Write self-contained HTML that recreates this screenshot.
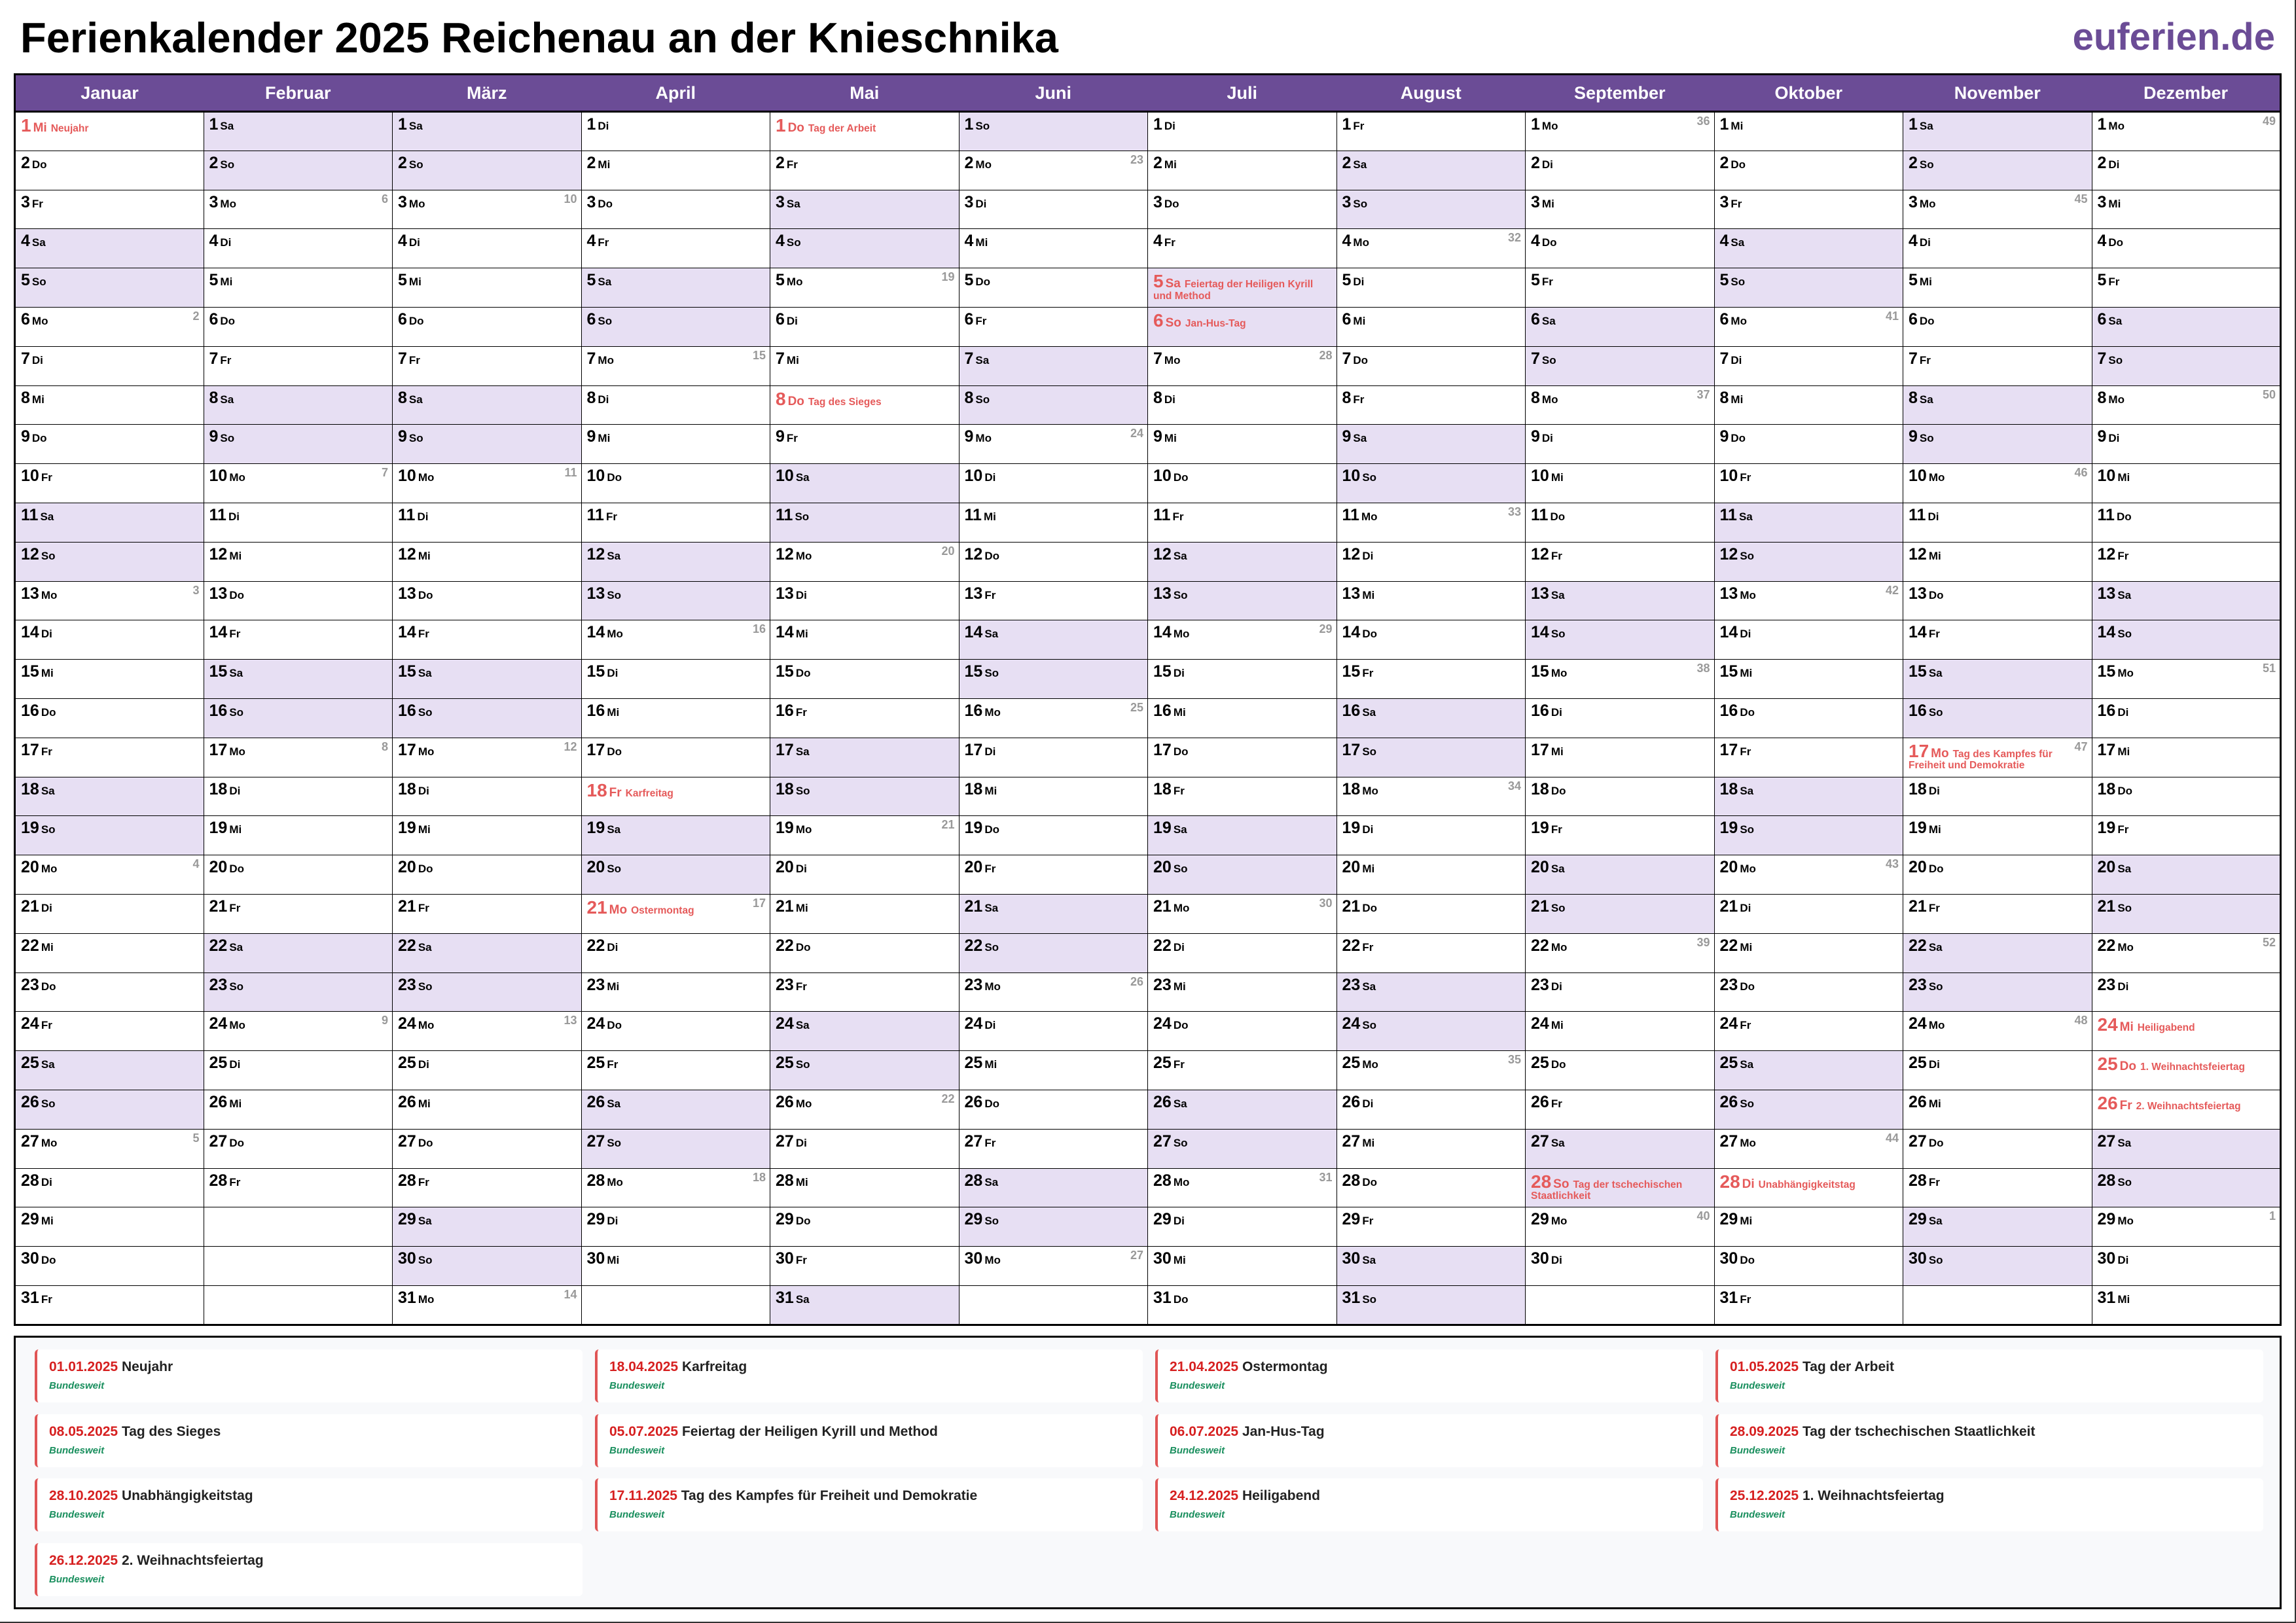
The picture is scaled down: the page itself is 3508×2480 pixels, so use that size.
<!DOCTYPE html>
<html><head><meta charset="utf-8">
<style>
*{box-sizing:border-box}
body{margin:0;width:3508px;height:2480px;background:#fff;font-family:"Liberation Sans",Arial,sans-serif;position:relative;overflow:hidden}
#t{position:absolute;left:31px;top:25px;font-size:65px;line-height:65px;font-weight:bold;color:#000;white-space:nowrap}
#l{position:absolute;right:32px;top:28px;font-size:58px;line-height:58px;font-weight:bold;color:#6B4C96}
#pr{position:absolute;right:0;top:0;width:2px;height:2480px;background:#333}
#pb{position:absolute;left:0;bottom:0;height:2px;width:3508px;background:#333}
table{position:absolute;left:21px;top:112px;width:3465px;border-collapse:collapse;table-layout:fixed;border:3px solid #000}
th{background:#6B4C96;color:#fff;font-size:27px;height:57px;border-bottom:3px solid #000;padding:0;font-weight:bold}
td{border:1px solid #000;height:59.8px;vertical-align:top;padding:5px 8px 0 8px;position:relative;line-height:1.05;overflow:hidden}
td.w{background:#E7DFF3}
td b{font-size:25px;font-weight:bold;color:#000}
td i{font-style:normal;font-weight:bold;font-size:17px;margin-left:3px;color:#000}
td s{text-decoration:none;position:absolute;right:6px;top:4px;font-size:18px;font-weight:bold;color:#999}
td.h b,td.h i{color:#E55A5A}
td.h b{font-size:28px}
td.h i{font-size:19px}
td u{text-decoration:none;color:#E55A5A;font-size:15.5px;font-weight:bold;margin-left:6px}
#lg{position:absolute;left:21px;top:2041px;width:3465px;height:418px;border:3px solid #000;background:#F8F9FB}
.c{position:absolute;width:837px;height:81px;background:#fff;border-left:4px solid #E05555;border-radius:6px}
.c .d{position:absolute;left:18px;top:15px;font-size:21px;font-weight:bold;color:#222;white-space:nowrap}
.c .d em{font-style:normal;color:#D62020}
.c .b{position:absolute;left:18px;top:47px;font-size:15px;font-weight:bold;font-style:italic;color:#1A8F5E}
</style></head><body>
<div id="t">Ferienkalender 2025 Reichenau an der Knieschnika</div>
<div id="l">euferien.de</div>
<div id="pr"></div><div id="pb"></div>
<table>
<tr><th>Januar</th><th>Februar</th><th>März</th><th>April</th><th>Mai</th><th>Juni</th><th>Juli</th><th>August</th><th>September</th><th>Oktober</th><th>November</th><th>Dezember</th></tr>
<tr><td class="h"><b>1</b><i>Mi</i><u>Neujahr</u></td><td class="w"><b>1</b><i>Sa</i></td><td class="w"><b>1</b><i>Sa</i></td><td><b>1</b><i>Di</i></td><td class="h"><b>1</b><i>Do</i><u>Tag der Arbeit</u></td><td class="w"><b>1</b><i>So</i></td><td><b>1</b><i>Di</i></td><td><b>1</b><i>Fr</i></td><td><b>1</b><i>Mo</i><s>36</s></td><td><b>1</b><i>Mi</i></td><td class="w"><b>1</b><i>Sa</i></td><td><b>1</b><i>Mo</i><s>49</s></td></tr>
<tr><td><b>2</b><i>Do</i></td><td class="w"><b>2</b><i>So</i></td><td class="w"><b>2</b><i>So</i></td><td><b>2</b><i>Mi</i></td><td><b>2</b><i>Fr</i></td><td><b>2</b><i>Mo</i><s>23</s></td><td><b>2</b><i>Mi</i></td><td class="w"><b>2</b><i>Sa</i></td><td><b>2</b><i>Di</i></td><td><b>2</b><i>Do</i></td><td class="w"><b>2</b><i>So</i></td><td><b>2</b><i>Di</i></td></tr>
<tr><td><b>3</b><i>Fr</i></td><td><b>3</b><i>Mo</i><s>6</s></td><td><b>3</b><i>Mo</i><s>10</s></td><td><b>3</b><i>Do</i></td><td class="w"><b>3</b><i>Sa</i></td><td><b>3</b><i>Di</i></td><td><b>3</b><i>Do</i></td><td class="w"><b>3</b><i>So</i></td><td><b>3</b><i>Mi</i></td><td><b>3</b><i>Fr</i></td><td><b>3</b><i>Mo</i><s>45</s></td><td><b>3</b><i>Mi</i></td></tr>
<tr><td class="w"><b>4</b><i>Sa</i></td><td><b>4</b><i>Di</i></td><td><b>4</b><i>Di</i></td><td><b>4</b><i>Fr</i></td><td class="w"><b>4</b><i>So</i></td><td><b>4</b><i>Mi</i></td><td><b>4</b><i>Fr</i></td><td><b>4</b><i>Mo</i><s>32</s></td><td><b>4</b><i>Do</i></td><td class="w"><b>4</b><i>Sa</i></td><td><b>4</b><i>Di</i></td><td><b>4</b><i>Do</i></td></tr>
<tr><td class="w"><b>5</b><i>So</i></td><td><b>5</b><i>Mi</i></td><td><b>5</b><i>Mi</i></td><td class="w"><b>5</b><i>Sa</i></td><td><b>5</b><i>Mo</i><s>19</s></td><td><b>5</b><i>Do</i></td><td class="w h"><b>5</b><i>Sa</i><u>Feiertag der Heiligen Kyrill und Method</u></td><td><b>5</b><i>Di</i></td><td><b>5</b><i>Fr</i></td><td class="w"><b>5</b><i>So</i></td><td><b>5</b><i>Mi</i></td><td><b>5</b><i>Fr</i></td></tr>
<tr><td><b>6</b><i>Mo</i><s>2</s></td><td><b>6</b><i>Do</i></td><td><b>6</b><i>Do</i></td><td class="w"><b>6</b><i>So</i></td><td><b>6</b><i>Di</i></td><td><b>6</b><i>Fr</i></td><td class="w h"><b>6</b><i>So</i><u>Jan-Hus-Tag</u></td><td><b>6</b><i>Mi</i></td><td class="w"><b>6</b><i>Sa</i></td><td><b>6</b><i>Mo</i><s>41</s></td><td><b>6</b><i>Do</i></td><td class="w"><b>6</b><i>Sa</i></td></tr>
<tr><td><b>7</b><i>Di</i></td><td><b>7</b><i>Fr</i></td><td><b>7</b><i>Fr</i></td><td><b>7</b><i>Mo</i><s>15</s></td><td><b>7</b><i>Mi</i></td><td class="w"><b>7</b><i>Sa</i></td><td><b>7</b><i>Mo</i><s>28</s></td><td><b>7</b><i>Do</i></td><td class="w"><b>7</b><i>So</i></td><td><b>7</b><i>Di</i></td><td><b>7</b><i>Fr</i></td><td class="w"><b>7</b><i>So</i></td></tr>
<tr><td><b>8</b><i>Mi</i></td><td class="w"><b>8</b><i>Sa</i></td><td class="w"><b>8</b><i>Sa</i></td><td><b>8</b><i>Di</i></td><td class="h"><b>8</b><i>Do</i><u>Tag des Sieges</u></td><td class="w"><b>8</b><i>So</i></td><td><b>8</b><i>Di</i></td><td><b>8</b><i>Fr</i></td><td><b>8</b><i>Mo</i><s>37</s></td><td><b>8</b><i>Mi</i></td><td class="w"><b>8</b><i>Sa</i></td><td><b>8</b><i>Mo</i><s>50</s></td></tr>
<tr><td><b>9</b><i>Do</i></td><td class="w"><b>9</b><i>So</i></td><td class="w"><b>9</b><i>So</i></td><td><b>9</b><i>Mi</i></td><td><b>9</b><i>Fr</i></td><td><b>9</b><i>Mo</i><s>24</s></td><td><b>9</b><i>Mi</i></td><td class="w"><b>9</b><i>Sa</i></td><td><b>9</b><i>Di</i></td><td><b>9</b><i>Do</i></td><td class="w"><b>9</b><i>So</i></td><td><b>9</b><i>Di</i></td></tr>
<tr><td><b>10</b><i>Fr</i></td><td><b>10</b><i>Mo</i><s>7</s></td><td><b>10</b><i>Mo</i><s>11</s></td><td><b>10</b><i>Do</i></td><td class="w"><b>10</b><i>Sa</i></td><td><b>10</b><i>Di</i></td><td><b>10</b><i>Do</i></td><td class="w"><b>10</b><i>So</i></td><td><b>10</b><i>Mi</i></td><td><b>10</b><i>Fr</i></td><td><b>10</b><i>Mo</i><s>46</s></td><td><b>10</b><i>Mi</i></td></tr>
<tr><td class="w"><b>11</b><i>Sa</i></td><td><b>11</b><i>Di</i></td><td><b>11</b><i>Di</i></td><td><b>11</b><i>Fr</i></td><td class="w"><b>11</b><i>So</i></td><td><b>11</b><i>Mi</i></td><td><b>11</b><i>Fr</i></td><td><b>11</b><i>Mo</i><s>33</s></td><td><b>11</b><i>Do</i></td><td class="w"><b>11</b><i>Sa</i></td><td><b>11</b><i>Di</i></td><td><b>11</b><i>Do</i></td></tr>
<tr><td class="w"><b>12</b><i>So</i></td><td><b>12</b><i>Mi</i></td><td><b>12</b><i>Mi</i></td><td class="w"><b>12</b><i>Sa</i></td><td><b>12</b><i>Mo</i><s>20</s></td><td><b>12</b><i>Do</i></td><td class="w"><b>12</b><i>Sa</i></td><td><b>12</b><i>Di</i></td><td><b>12</b><i>Fr</i></td><td class="w"><b>12</b><i>So</i></td><td><b>12</b><i>Mi</i></td><td><b>12</b><i>Fr</i></td></tr>
<tr><td><b>13</b><i>Mo</i><s>3</s></td><td><b>13</b><i>Do</i></td><td><b>13</b><i>Do</i></td><td class="w"><b>13</b><i>So</i></td><td><b>13</b><i>Di</i></td><td><b>13</b><i>Fr</i></td><td class="w"><b>13</b><i>So</i></td><td><b>13</b><i>Mi</i></td><td class="w"><b>13</b><i>Sa</i></td><td><b>13</b><i>Mo</i><s>42</s></td><td><b>13</b><i>Do</i></td><td class="w"><b>13</b><i>Sa</i></td></tr>
<tr><td><b>14</b><i>Di</i></td><td><b>14</b><i>Fr</i></td><td><b>14</b><i>Fr</i></td><td><b>14</b><i>Mo</i><s>16</s></td><td><b>14</b><i>Mi</i></td><td class="w"><b>14</b><i>Sa</i></td><td><b>14</b><i>Mo</i><s>29</s></td><td><b>14</b><i>Do</i></td><td class="w"><b>14</b><i>So</i></td><td><b>14</b><i>Di</i></td><td><b>14</b><i>Fr</i></td><td class="w"><b>14</b><i>So</i></td></tr>
<tr><td><b>15</b><i>Mi</i></td><td class="w"><b>15</b><i>Sa</i></td><td class="w"><b>15</b><i>Sa</i></td><td><b>15</b><i>Di</i></td><td><b>15</b><i>Do</i></td><td class="w"><b>15</b><i>So</i></td><td><b>15</b><i>Di</i></td><td><b>15</b><i>Fr</i></td><td><b>15</b><i>Mo</i><s>38</s></td><td><b>15</b><i>Mi</i></td><td class="w"><b>15</b><i>Sa</i></td><td><b>15</b><i>Mo</i><s>51</s></td></tr>
<tr><td><b>16</b><i>Do</i></td><td class="w"><b>16</b><i>So</i></td><td class="w"><b>16</b><i>So</i></td><td><b>16</b><i>Mi</i></td><td><b>16</b><i>Fr</i></td><td><b>16</b><i>Mo</i><s>25</s></td><td><b>16</b><i>Mi</i></td><td class="w"><b>16</b><i>Sa</i></td><td><b>16</b><i>Di</i></td><td><b>16</b><i>Do</i></td><td class="w"><b>16</b><i>So</i></td><td><b>16</b><i>Di</i></td></tr>
<tr><td><b>17</b><i>Fr</i></td><td><b>17</b><i>Mo</i><s>8</s></td><td><b>17</b><i>Mo</i><s>12</s></td><td><b>17</b><i>Do</i></td><td class="w"><b>17</b><i>Sa</i></td><td><b>17</b><i>Di</i></td><td><b>17</b><i>Do</i></td><td class="w"><b>17</b><i>So</i></td><td><b>17</b><i>Mi</i></td><td><b>17</b><i>Fr</i></td><td class="h"><b>17</b><i>Mo</i><u>Tag des Kampfes für Freiheit und Demokratie</u><s>47</s></td><td><b>17</b><i>Mi</i></td></tr>
<tr><td class="w"><b>18</b><i>Sa</i></td><td><b>18</b><i>Di</i></td><td><b>18</b><i>Di</i></td><td class="h"><b>18</b><i>Fr</i><u>Karfreitag</u></td><td class="w"><b>18</b><i>So</i></td><td><b>18</b><i>Mi</i></td><td><b>18</b><i>Fr</i></td><td><b>18</b><i>Mo</i><s>34</s></td><td><b>18</b><i>Do</i></td><td class="w"><b>18</b><i>Sa</i></td><td><b>18</b><i>Di</i></td><td><b>18</b><i>Do</i></td></tr>
<tr><td class="w"><b>19</b><i>So</i></td><td><b>19</b><i>Mi</i></td><td><b>19</b><i>Mi</i></td><td class="w"><b>19</b><i>Sa</i></td><td><b>19</b><i>Mo</i><s>21</s></td><td><b>19</b><i>Do</i></td><td class="w"><b>19</b><i>Sa</i></td><td><b>19</b><i>Di</i></td><td><b>19</b><i>Fr</i></td><td class="w"><b>19</b><i>So</i></td><td><b>19</b><i>Mi</i></td><td><b>19</b><i>Fr</i></td></tr>
<tr><td><b>20</b><i>Mo</i><s>4</s></td><td><b>20</b><i>Do</i></td><td><b>20</b><i>Do</i></td><td class="w"><b>20</b><i>So</i></td><td><b>20</b><i>Di</i></td><td><b>20</b><i>Fr</i></td><td class="w"><b>20</b><i>So</i></td><td><b>20</b><i>Mi</i></td><td class="w"><b>20</b><i>Sa</i></td><td><b>20</b><i>Mo</i><s>43</s></td><td><b>20</b><i>Do</i></td><td class="w"><b>20</b><i>Sa</i></td></tr>
<tr><td><b>21</b><i>Di</i></td><td><b>21</b><i>Fr</i></td><td><b>21</b><i>Fr</i></td><td class="h"><b>21</b><i>Mo</i><u>Ostermontag</u><s>17</s></td><td><b>21</b><i>Mi</i></td><td class="w"><b>21</b><i>Sa</i></td><td><b>21</b><i>Mo</i><s>30</s></td><td><b>21</b><i>Do</i></td><td class="w"><b>21</b><i>So</i></td><td><b>21</b><i>Di</i></td><td><b>21</b><i>Fr</i></td><td class="w"><b>21</b><i>So</i></td></tr>
<tr><td><b>22</b><i>Mi</i></td><td class="w"><b>22</b><i>Sa</i></td><td class="w"><b>22</b><i>Sa</i></td><td><b>22</b><i>Di</i></td><td><b>22</b><i>Do</i></td><td class="w"><b>22</b><i>So</i></td><td><b>22</b><i>Di</i></td><td><b>22</b><i>Fr</i></td><td><b>22</b><i>Mo</i><s>39</s></td><td><b>22</b><i>Mi</i></td><td class="w"><b>22</b><i>Sa</i></td><td><b>22</b><i>Mo</i><s>52</s></td></tr>
<tr><td><b>23</b><i>Do</i></td><td class="w"><b>23</b><i>So</i></td><td class="w"><b>23</b><i>So</i></td><td><b>23</b><i>Mi</i></td><td><b>23</b><i>Fr</i></td><td><b>23</b><i>Mo</i><s>26</s></td><td><b>23</b><i>Mi</i></td><td class="w"><b>23</b><i>Sa</i></td><td><b>23</b><i>Di</i></td><td><b>23</b><i>Do</i></td><td class="w"><b>23</b><i>So</i></td><td><b>23</b><i>Di</i></td></tr>
<tr><td><b>24</b><i>Fr</i></td><td><b>24</b><i>Mo</i><s>9</s></td><td><b>24</b><i>Mo</i><s>13</s></td><td><b>24</b><i>Do</i></td><td class="w"><b>24</b><i>Sa</i></td><td><b>24</b><i>Di</i></td><td><b>24</b><i>Do</i></td><td class="w"><b>24</b><i>So</i></td><td><b>24</b><i>Mi</i></td><td><b>24</b><i>Fr</i></td><td><b>24</b><i>Mo</i><s>48</s></td><td class="h"><b>24</b><i>Mi</i><u>Heiligabend</u></td></tr>
<tr><td class="w"><b>25</b><i>Sa</i></td><td><b>25</b><i>Di</i></td><td><b>25</b><i>Di</i></td><td><b>25</b><i>Fr</i></td><td class="w"><b>25</b><i>So</i></td><td><b>25</b><i>Mi</i></td><td><b>25</b><i>Fr</i></td><td><b>25</b><i>Mo</i><s>35</s></td><td><b>25</b><i>Do</i></td><td class="w"><b>25</b><i>Sa</i></td><td><b>25</b><i>Di</i></td><td class="h"><b>25</b><i>Do</i><u>1. Weihnachtsfeiertag</u></td></tr>
<tr><td class="w"><b>26</b><i>So</i></td><td><b>26</b><i>Mi</i></td><td><b>26</b><i>Mi</i></td><td class="w"><b>26</b><i>Sa</i></td><td><b>26</b><i>Mo</i><s>22</s></td><td><b>26</b><i>Do</i></td><td class="w"><b>26</b><i>Sa</i></td><td><b>26</b><i>Di</i></td><td><b>26</b><i>Fr</i></td><td class="w"><b>26</b><i>So</i></td><td><b>26</b><i>Mi</i></td><td class="h"><b>26</b><i>Fr</i><u>2. Weihnachtsfeiertag</u></td></tr>
<tr><td><b>27</b><i>Mo</i><s>5</s></td><td><b>27</b><i>Do</i></td><td><b>27</b><i>Do</i></td><td class="w"><b>27</b><i>So</i></td><td><b>27</b><i>Di</i></td><td><b>27</b><i>Fr</i></td><td class="w"><b>27</b><i>So</i></td><td><b>27</b><i>Mi</i></td><td class="w"><b>27</b><i>Sa</i></td><td><b>27</b><i>Mo</i><s>44</s></td><td><b>27</b><i>Do</i></td><td class="w"><b>27</b><i>Sa</i></td></tr>
<tr><td><b>28</b><i>Di</i></td><td><b>28</b><i>Fr</i></td><td><b>28</b><i>Fr</i></td><td><b>28</b><i>Mo</i><s>18</s></td><td><b>28</b><i>Mi</i></td><td class="w"><b>28</b><i>Sa</i></td><td><b>28</b><i>Mo</i><s>31</s></td><td><b>28</b><i>Do</i></td><td class="w h"><b>28</b><i>So</i><u>Tag der tschechischen Staatlichkeit</u></td><td class="h"><b>28</b><i>Di</i><u>Unabhängigkeitstag</u></td><td><b>28</b><i>Fr</i></td><td class="w"><b>28</b><i>So</i></td></tr>
<tr><td><b>29</b><i>Mi</i></td><td></td><td class="w"><b>29</b><i>Sa</i></td><td><b>29</b><i>Di</i></td><td><b>29</b><i>Do</i></td><td class="w"><b>29</b><i>So</i></td><td><b>29</b><i>Di</i></td><td><b>29</b><i>Fr</i></td><td><b>29</b><i>Mo</i><s>40</s></td><td><b>29</b><i>Mi</i></td><td class="w"><b>29</b><i>Sa</i></td><td><b>29</b><i>Mo</i><s>1</s></td></tr>
<tr><td><b>30</b><i>Do</i></td><td></td><td class="w"><b>30</b><i>So</i></td><td><b>30</b><i>Mi</i></td><td><b>30</b><i>Fr</i></td><td><b>30</b><i>Mo</i><s>27</s></td><td><b>30</b><i>Mi</i></td><td class="w"><b>30</b><i>Sa</i></td><td><b>30</b><i>Di</i></td><td><b>30</b><i>Do</i></td><td class="w"><b>30</b><i>So</i></td><td><b>30</b><i>Di</i></td></tr>
<tr><td><b>31</b><i>Fr</i></td><td></td><td><b>31</b><i>Mo</i><s>14</s></td><td></td><td class="w"><b>31</b><i>Sa</i></td><td></td><td><b>31</b><i>Do</i></td><td class="w"><b>31</b><i>So</i></td><td></td><td><b>31</b><i>Fr</i></td><td></td><td><b>31</b><i>Mi</i></td></tr>
</table>
<div id="lg">
<div class="c" style="left:29px;top:18px"><div class="d"><em>01.01.2025</em> Neujahr</div><div class="b">Bundesweit</div></div>
<div class="c" style="left:885px;top:18px"><div class="d"><em>18.04.2025</em> Karfreitag</div><div class="b">Bundesweit</div></div>
<div class="c" style="left:1741px;top:18px"><div class="d"><em>21.04.2025</em> Ostermontag</div><div class="b">Bundesweit</div></div>
<div class="c" style="left:2597px;top:18px"><div class="d"><em>01.05.2025</em> Tag der Arbeit</div><div class="b">Bundesweit</div></div>
<div class="c" style="left:29px;top:117px"><div class="d"><em>08.05.2025</em> Tag des Sieges</div><div class="b">Bundesweit</div></div>
<div class="c" style="left:885px;top:117px"><div class="d"><em>05.07.2025</em> Feiertag der Heiligen Kyrill und Method</div><div class="b">Bundesweit</div></div>
<div class="c" style="left:1741px;top:117px"><div class="d"><em>06.07.2025</em> Jan-Hus-Tag</div><div class="b">Bundesweit</div></div>
<div class="c" style="left:2597px;top:117px"><div class="d"><em>28.09.2025</em> Tag der tschechischen Staatlichkeit</div><div class="b">Bundesweit</div></div>
<div class="c" style="left:29px;top:215px"><div class="d"><em>28.10.2025</em> Unabhängigkeitstag</div><div class="b">Bundesweit</div></div>
<div class="c" style="left:885px;top:215px"><div class="d"><em>17.11.2025</em> Tag des Kampfes für Freiheit und Demokratie</div><div class="b">Bundesweit</div></div>
<div class="c" style="left:1741px;top:215px"><div class="d"><em>24.12.2025</em> Heiligabend</div><div class="b">Bundesweit</div></div>
<div class="c" style="left:2597px;top:215px"><div class="d"><em>25.12.2025</em> 1. Weihnachtsfeiertag</div><div class="b">Bundesweit</div></div>
<div class="c" style="left:29px;top:314px"><div class="d"><em>26.12.2025</em> 2. Weihnachtsfeiertag</div><div class="b">Bundesweit</div></div>
</div>
</body></html>
